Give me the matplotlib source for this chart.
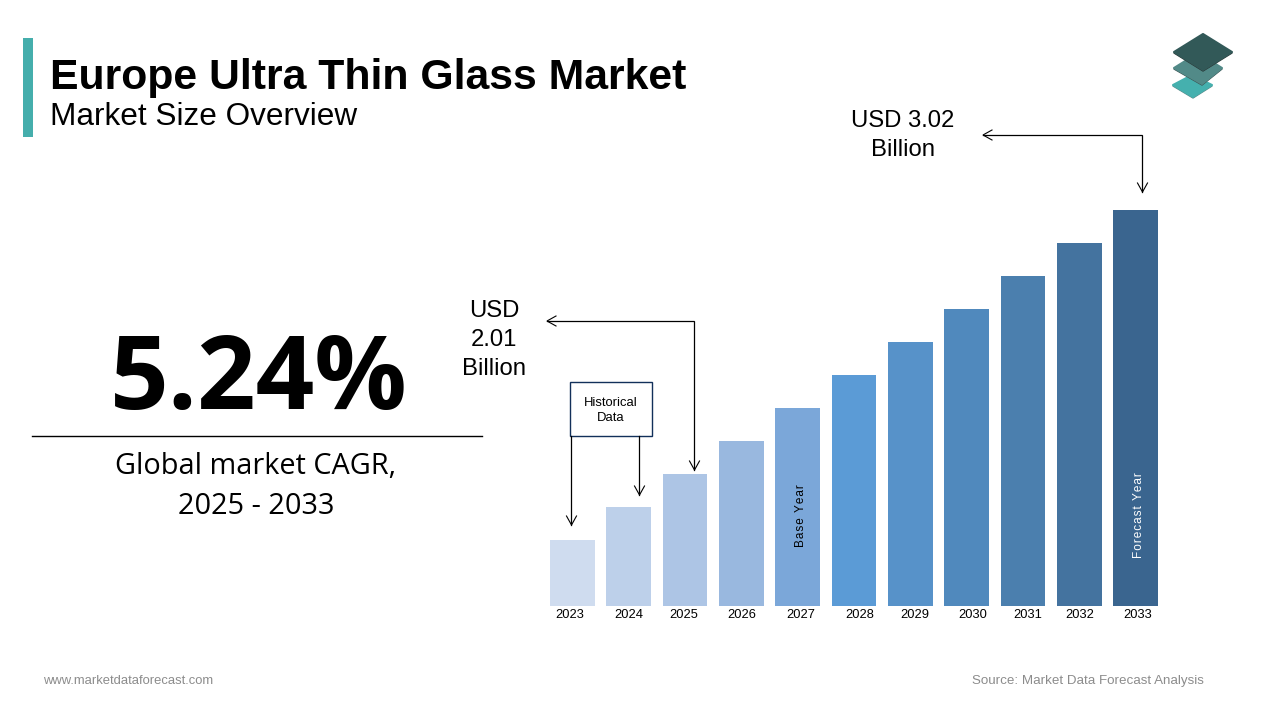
import matplotlib
matplotlib.use("Agg")
import matplotlib.pyplot as plt
from matplotlib.patches import Polygon, Rectangle

years = ["2023","2024","2025","2026","2027","2028","2029","2030","2031","2032","2033"]
bar_values = [66,99,132,165,198,231,264,297,330,363,396]
bar_colors = ["#CFDCEF","#BDD0EA","#ADC5E5","#99B8DF","#7BA7D9","#5B9BD6","#5792C9","#5089BD","#4B7FAE","#44739F","#3A658F"]

W, H = 1280, 720
fig = plt.figure(figsize=(W/100, H/100), dpi=100, facecolor="white")
ov = fig.add_axes([0,0,1,1]); ov.set_xlim(0,W); ov.set_ylim(H,0); ov.axis("off"); ov.set_zorder(2)

L,R,T,B = 544.2,1163.8,210,606
ax = fig.add_axes([L/W, 1-B/H, (R-L)/W, (B-T)/H]); ax.axis("off"); ax.set_zorder(1)
ax.set_xlim(-0.5, 10.5); ax.set_ylim(0, 396)
ax.bar(range(len(years)), bar_values, width=0.795, color=bar_colors, linewidth=0)

ar = "Liberation Sans"; os_ = "Open Sans"
for lx, y in zip([570,629,684,742,801,860,915,973,1028,1080,1138], years):
    ov.text(lx, 614.5, y, ha="center", va="center", fontsize=9.3, family=ar, color="black")

ov.add_patch(Rectangle((23,38),10,99,color="#45AEAC",lw=0))
ov.text(49.5,78,"Europe Ultra Thin Glass Market",fontsize=30.8,weight="bold",family=ar,va="center",color="black")
ov.text(50.5,117,"Market Size Overview",fontsize=22.7,family=ar,va="center",color="black")
ov.text(259,382,"5.24%",fontsize=74,weight="bold",family=os_,ha="center",va="center",color="black")
ov.plot([32,482],[436,436],color="black",lw=1)
ov.text(256,466,"Global market CAGR,",fontsize=20.8,family=os_,ha="center",va="center",color="black")
ov.text(256,506,"2025 - 2033",fontsize=20.8,family=os_,ha="center",va="center",color="black")
ov.text(903,121,"USD 3.02",fontsize=17.2,family=ar,ha="center",va="center",color="black")
ov.text(903,150,"Billion",fontsize=17.2,family=ar,ha="center",va="center",color="black")
for yy,t in zip([311,340,369],["USD","2.01","Billion"]):
    ov.text(494,yy,t,fontsize=17.2,family=ar,ha="center",va="center",color="black")
ov.add_patch(Rectangle((570,382),82,54,fc="white",ec="#12305A",lw=1))
ov.text(611,403,"Historical",fontsize=9.4,family=ar,ha="center",va="center",color="black")
ov.text(611,418,"Data",fontsize=9.4,family=ar,ha="center",va="center",color="black")
ov.text(800.5,516,"\u200a".join("Base Year"),fontsize=8.5,family=ar,rotation=90,ha="center",va="center",color="black")
ov.text(1139.5,515.5,"\u200a".join("Forecast Year"),fontsize=8.5,family=ar,rotation=90,ha="center",va="center",color="white")
ov.text(43,681,"www.marketdataforecast.com",fontsize=9.35,family=ar,va="center",color="#8C8C8C")
ov.text(1204,681,"Source: Market Data Forecast Analysis",fontsize=9.6,family=ar,ha="right",va="center",color="#8C8C8C")

def line(pts):
    xs,ys = zip(*pts)
    ov.plot(xs,ys,color="black",lw=0.9,solid_joinstyle="miter")
def head(tip, dx, dy):
    x,y = tip
    a = (x-dx*9-dy*5, y-dy*9-dx*5); b = (x-dx*9+dy*5, y-dy*9+dx*5)
    l, = ov.plot([a[0],x,b[0]],[a[1],y,b[1]],color="black",lw=0.8,solid_joinstyle="miter")
    l.set_snap(False)
line([(983,135),(1142,135),(1142,192)])
head((983,135),-1,0); head((1142.5,192),0,1)
line([(547,321),(694,321),(694,470)])
head((547,321),-1,0); head((694.5,470),0,1)
line([(571,436),(571,525)]); head((571.5,525),0,1)
line([(639,436),(639,495)]); head((639.5,495),0,1)

def diamond(pts, col, shadow):
    ov.add_patch(Polygon([(x,y+1) for x,y in pts],fc=shadow,ec=shadow,lw=1,joinstyle="round"))
    ov.add_patch(Polygon(pts,fc=col,ec=col,lw=1.5,joinstyle="round"))
diamond([(1173,85),(1192,75),(1212,85),(1193,97)],"#45B0AE","#5F8A8A")
diamond([(1174,68),(1198,53),(1222,68),(1202,84)],"#528A88","#3C5252")
diamond([(1174,52),(1203,34),(1232,52),(1203,70)],"#325958","#2B3838")
fig.savefig("out.png",dpi=100)
